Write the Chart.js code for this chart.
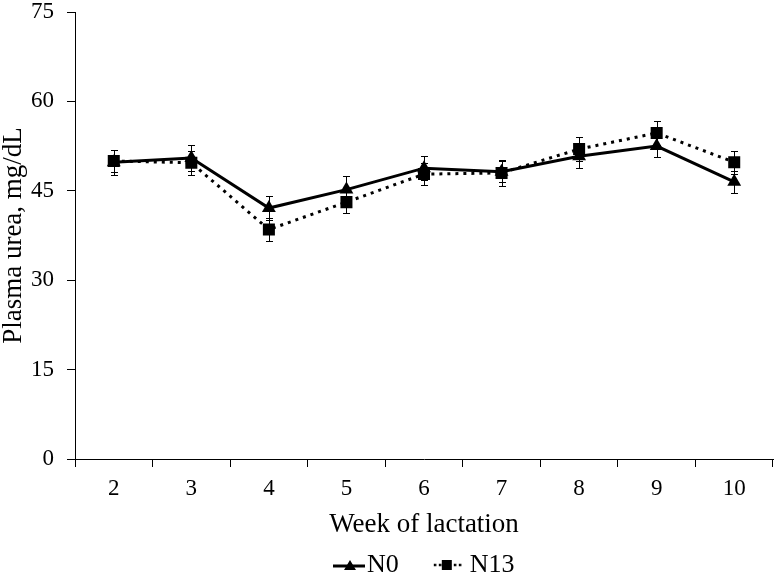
<!DOCTYPE html>
<html>
<head>
<meta charset="utf-8">
<script src="https://cdn.jsdelivr.net/npm/chart.js@4"></script>
<style>
  html, body { margin: 0; padding: 0; background: #ffffff; }
  #wrap { width: 776px; height: 579px; }
</style>
</head>
<body>
<div id="wrap"><canvas id="urea_chart"></canvas></div>
<script>
var weeks = ["2", "3", "4", "5", "6", "7", "8", "9", "10"];
var n0 = [49.8, 50.5, 42.1, 45.2, 48.8, 48.2, 50.8, 52.5, 46.5];
var n0Err = [2.1, 2.2, 2.0, 2.2, 2.0, 1.8, 2.0, 1.9, 1.9];
var n13 = [50.0, 49.7, 38.5, 43.1, 47.8, 48.0, 52.0, 54.7, 49.8];
var n13Err = [1.9, 2.0, 2.0, 1.9, 1.9, 2.2, 2.0, 2.0, 1.9];
var yTicks = [0, 15, 30, 45, 60, 75];

var FONT = "'Liberation Serif', 'Times New Roman', serif";

// legend sample: line + marker drawn at the right end of a wider transparent picture,
// so that it sits just before the label text
function legendIcon(dotted) {
  var c = document.createElement("canvas");
  c.width = 80;
  c.height = 16;
  var g = c.getContext("2d");
  g.strokeStyle = "#000";
  g.fillStyle = "#000";
  if (dotted) {
    g.lineWidth = 2.5;
    g.setLineDash([2.5, 2.5]);
    g.beginPath();
    g.moveTo(46, 8);
    g.lineTo(75, 8);
    g.stroke();
    g.setLineDash([]);
    g.fillRect(54, 3, 10, 10);
  } else {
    g.lineWidth = 3;
    g.beginPath();
    g.moveTo(48, 9);
    g.lineTo(80, 9);
    g.stroke();
    g.beginPath();
    g.moveTo(65, 3);
    g.lineTo(71, 13);
    g.lineTo(59, 13);
    g.closePath();
    g.fill();
  }
  return c;
}

var errorBars = {
  id: "errorBars",
  beforeDatasetsDraw: function (chart) {
    var ctx = chart.ctx;
    var y = chart.scales.y;
    ctx.save();
    ctx.strokeStyle = "#000";
    ctx.lineWidth = 1;
    chart.data.datasets.forEach(function (ds, i) {
      var meta = chart.getDatasetMeta(i);
      meta.data.forEach(function (pt, j) {
        var v = ds.data[j], e = ds.errors[j];
        var top = Math.round(y.getPixelForValue(v + e)) + 0.5;
        var bot = Math.round(y.getPixelForValue(v - e)) + 0.5;
        var x = Math.round(pt.x) + 0.5;
        ctx.beginPath();
        ctx.moveTo(x, top); ctx.lineTo(x, bot);
        ctx.moveTo(x - 3.5, top); ctx.lineTo(x + 3.5, top);
        ctx.moveTo(x - 3.5, bot); ctx.lineTo(x + 3.5, bot);
        ctx.stroke();
      });
    });
    ctx.restore();
  },
};

// put the legend where it sits in the original figure
var legendPlace = {
  id: "legendPlace",
  afterLayout: function (chart) {
    var lg = chart.legend;
    lg.left = 296;
    lg.right = 773;
    lg.top = 552;
    lg.bottom = 590;
  },
};

var ctx = document.getElementById("urea_chart").getContext("2d");
var urea_chart = new Chart(ctx, {
  type: "line",
  data: {
    labels: weeks,
    datasets: [
      {
        label: "N0",
        data: n0,
        errors: n0Err,
        borderColor: "#000",
        backgroundColor: "#000",
        borderWidth: 3,
        pointStyle: "triangle",
        pointRadius: 8,
        pointBorderWidth: 0,
        tension: 0,
      },
      {
        label: "N13",
        data: n13,
        errors: n13Err,
        borderColor: "#000",
        backgroundColor: "#000",
        borderWidth: 3,
        borderDash: [3, 5],
        pointStyle: "rect",
        pointRadius: 8.5,
        pointBorderWidth: 0,
        tension: 0,
      },
    ],
  },
  options: {
    responsive: true,
    maintainAspectRatio: false,
    animation: false,
    layout: { autoPadding: false, padding: { top: 12, right: 3, left: 0, bottom: 2 } },
    scales: {
      x: {
        offset: true,
        afterFit: function (scale) {
          scale.height = 82;
          scale.paddingLeft = 0;
          scale.paddingRight = 0;
        },
        grid: {
          offset: true,
          drawOnChartArea: false,
          color: "#000",
          tickLength: 8,
          tickColor: "#000",
        },
        border: { color: "#000", width: 1 },
        ticks: { color: "#000", font: { family: FONT, size: 23 }, padding: 8, maxRotation: 0 },
        title: {
          display: true,
          text: "Week of lactation",
          color: "#000",
          font: { family: FONT, size: 27 },
          padding: { top: 0, bottom: 0 },
        },
      },
      y: {
        min: 0,
        max: 75,
        afterBuildTicks: function (scale) {
          scale.ticks = yTicks.map(function (v) { return { value: v }; });
        },
        afterFit: function (scale) {
          scale.width = 75;
          scale.paddingTop = 0;
          scale.paddingBottom = 0;
        },
        grid: {
          drawOnChartArea: false,
          color: "#000",
          tickLength: 8,
          tickColor: "#000",
        },
        border: { color: "#000", width: 1 },
        ticks: { color: "#000", font: { family: FONT, size: 23 }, padding: 13 },
        title: {
          display: true,
          text: "Plasma urea, mg/dL",
          color: "#000",
          font: { family: FONT, size: 27, lineHeight: 1 },
          padding: { top: 0, bottom: 0 },
        },
      },
    },
    plugins: {
      legend: {
        position: "bottom",
        align: "start",
        labels: {
          usePointStyle: true,
          pointStyleWidth: 58,
          padding: 0,
          color: "#000",
          font: { family: FONT, size: 26 },
          generateLabels: function (chart) {
            return chart.data.datasets.map(function (ds, i) {
              return {
                text: ds.label,
                pointStyle: legendIcon(i === 1),
                fillStyle: "#000",
                strokeStyle: "#000",
                lineWidth: 0,
                fontColor: "#000",
                datasetIndex: i,
                hidden: false,
              };
            });
          },
        },
      },
      tooltip: { enabled: false },
    },
  },
  plugins: [errorBars, legendPlace],
});
</script>
</body>
</html>
